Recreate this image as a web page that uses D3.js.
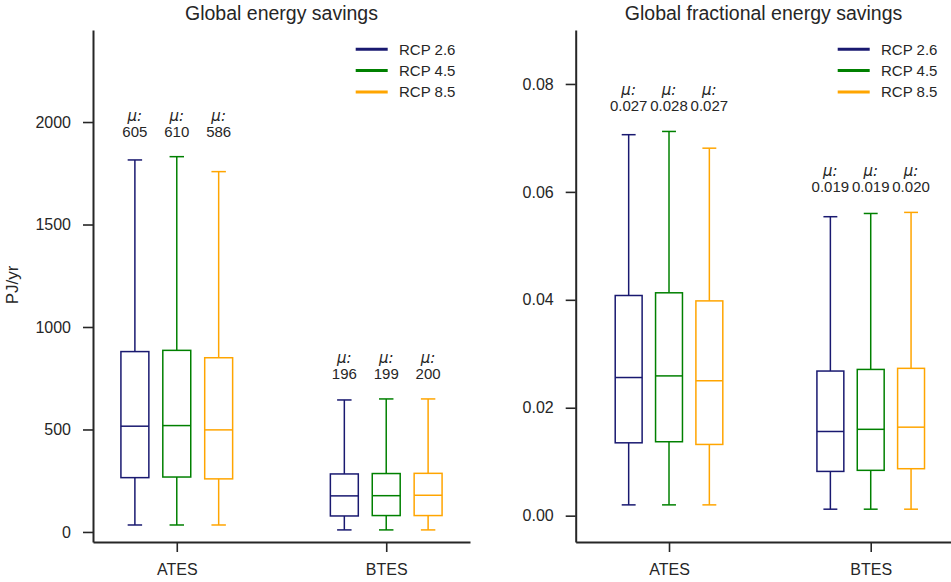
<!DOCTYPE html>
<html>
<head>
<meta charset="utf-8">
<script src="https://cdn.jsdelivr.net/npm/d3@7/dist/d3.min.js"></script>
<style>
  body { margin: 0; background: #fff; }
  text { font-family: "Liberation Sans", Arial, sans-serif; fill: #262626; }
</style>
</head>
<body>
<svg id="chart" width="951" height="582"></svg>
<script>
// ---- data ----
const categories = ["ATES", "BTES"];
const scenarios = ["RCP 2.6", "RCP 4.5", "RCP 8.5"];
const scenarioColors = ["#191970", "#008000", "#FFA500"];

// Box statistics, one row per scenario: [lower whisker, Q1, median, Q3, upper whisker]
const energyATES = [
  [34, 265, 516, 880, 1815],
  [34, 268, 519, 886, 1831],
  [34, 259, 498, 850, 1758]
];
const energyBTES = [
  [10, 78, 176, 283, 644],
  [10, 80, 177, 285, 649],
  [10, 80, 179, 286, 649]
];
const fracATES = [
  [0.0020, 0.0135, 0.0256, 0.0408, 0.0706],
  [0.0020, 0.0137, 0.0259, 0.0413, 0.0712],
  [0.0020, 0.0132, 0.0250, 0.0398, 0.0681]
];
const fracBTES = [
  [0.0012, 0.0082, 0.0156, 0.0268, 0.0554],
  [0.0012, 0.0084, 0.0160, 0.0271, 0.0560],
  [0.0012, 0.0087, 0.0164, 0.0273, 0.0562]
];

// Mean values per category (rows) and scenario (columns)
const energyMeans = [[605, 610, 586], [196, 199, 200]];
const fracMeans = [[0.027, 0.028, 0.027], [0.019, 0.019, 0.020]];

const energyTicks = [0, 500, 1000, 1500, 2000];
const fracTicks = [0.00, 0.02, 0.04, 0.06, 0.08];

// ---- layout ----
const svg = d3.select("#chart");
const axisColor = "#262626";
const plotTop = 30, plotBottom = 542;
const dodge = 0.2, boxHalf = 0.0667, capHalf = 0.0345;

const panels = [
  {
    title: "Global energy savings",
    stats: [energyATES, energyBTES],
    means: energyMeans,
    fmt: d3.format("d"),
    ticks: energyTicks,
    tickFmt: d3.format("d"),
    xDomain: [-0.4, 1.4], xRange: [93, 470],
    yDomain: [-49, 2449],
    ylabel: "PJ/yr",
    legendX: 355.7
  },
  {
    title: "Global fractional energy savings",
    stats: [fracATES, fracBTES],
    means: fracMeans,
    fmt: d3.format(".3f"),
    ticks: fracTicks,
    tickFmt: d3.format(".2f"),
    xDomain: [-0.4626, 1.4], xRange: [575.7, 951.4],
    yDomain: [-0.00488, 0.0900],
    ylabel: null,
    legendX: 837.7
  }
];

panels.forEach(p => {
  const x = d3.scaleLinear().domain(p.xDomain).range(p.xRange);
  const y = d3.scaleLinear().domain(p.yDomain).range([plotBottom, plotTop]);
  const g = svg.append("g");

  // axes
  const yAxis = d3.axisLeft(y).tickValues(p.ticks).tickFormat(p.tickFmt)
    .tickSize(10).tickSizeOuter(0).tickPadding(12);
  const xAxis = d3.axisBottom(x).tickValues(d3.range(categories.length))
    .tickFormat(i => categories[i]).tickSize(10).tickSizeOuter(0).tickPadding(12);

  const ya = g.append("g").attr("transform", `translate(${p.xRange[0]},0)`).call(yAxis);
  const xa = g.append("g").attr("transform", `translate(0,${plotBottom})`).call(xAxis);
  [ya, xa].forEach(a => {
    a.select(".domain").attr("stroke", axisColor).attr("stroke-width", 2);
    a.selectAll(".tick line").attr("stroke", axisColor).attr("stroke-width", 1.6);
    a.selectAll(".tick text").attr("fill", axisColor).style("font-size", "16px")
      .style("font-family", '"Liberation Sans", Arial, sans-serif');
  });

  // boxes
  p.stats.forEach((catStats, ci) => {
    catStats.forEach((s, si) => {
      const c = ci + (si - 1) * dodge;
      const cx = x(c), x0 = x(c - boxHalf), x1 = x(c + boxHalf);
      const cap0 = x(c - capHalf), cap1 = x(c + capHalf);
      const col = scenarioColors[si];
      const bg = g.append("g").attr("stroke", col).attr("stroke-width", 1.5).attr("fill", "none");
      bg.append("line").attr("x1", cx).attr("x2", cx).attr("y1", y(s[0])).attr("y2", y(s[1]));
      bg.append("line").attr("x1", cx).attr("x2", cx).attr("y1", y(s[3])).attr("y2", y(s[4]));
      bg.append("line").attr("x1", cap0).attr("x2", cap1).attr("y1", y(s[0])).attr("y2", y(s[0]));
      bg.append("line").attr("x1", cap0).attr("x2", cap1).attr("y1", y(s[4])).attr("y2", y(s[4]));
      bg.append("rect").attr("x", x0).attr("width", x1 - x0)
        .attr("y", y(s[3])).attr("height", y(s[1]) - y(s[3]));
      bg.append("line").attr("x1", x0).attr("x2", x1).attr("y1", y(s[2])).attr("y2", y(s[2]));
    });

    // mean labels above the tallest whisker of the group
    const topY = y(d3.max(catStats, s => s[4]));
    p.means[ci].forEach((m, si) => {
      const c = ci + (si - 1) * dodge;
      g.append("text").attr("x", x(c)).attr("y", topY - 36)
        .attr("text-anchor", "middle").style("font-size", "15px")
        .style("font-style", "italic").style("font-family", '"DejaVu Sans", sans-serif')
        .text("\u03bc:");
      g.append("text").attr("x", x(c)).attr("y", topY - 20)
        .attr("text-anchor", "middle").style("font-size", "15px")
        .text(p.fmt(m));
    });
  });

  // title
  g.append("text").attr("x", (p.xRange[0] + p.xRange[1]) / 2).attr("y", 20)
    .attr("text-anchor", "middle").style("font-size", "19.5px").text(p.title);

  // y label
  if (p.ylabel) {
    g.append("text").attr("transform", `translate(18,285) rotate(-90)`)
      .attr("text-anchor", "middle").style("font-size", "17px").text(p.ylabel);
  }

  // legend
  scenarios.forEach((name, si) => {
    const ly = 49.3 + si * 21.3;
    g.append("line").attr("x1", p.legendX).attr("x2", p.legendX + 32)
      .attr("y1", ly).attr("y2", ly).attr("stroke", scenarioColors[si]).attr("stroke-width", 3);
    g.append("text").attr("x", p.legendX + 43.3).attr("y", ly + 5.3)
      .style("font-size", "15px").text(name);
  });
});
</script>
</body>
</html>
